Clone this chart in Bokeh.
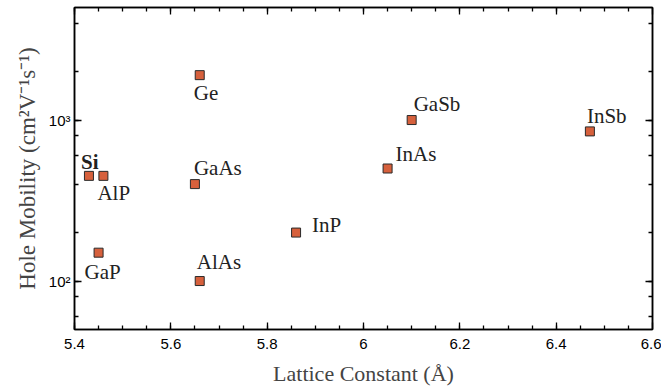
from bokeh.plotting import figure
from bokeh.models import ColumnDataSource, FixedTicker, LogTicker, LinearAxis, LogAxis, Range1d
from bokeh.core.properties import value
from bokeh.embed import file_html
from bokeh.resources import INLINE

materials = ["Si", "AlP", "GaP", "Ge", "GaAs", "AlAs", "InP", "InAs", "GaSb", "InSb"]
lattice = [5.43, 5.46, 5.45, 5.66, 5.65, 5.66, 5.86, 6.05, 6.10, 6.47]
mobility = [450, 450, 150, 1900, 400, 100, 200, 500, 1000, 850]

x_ticks = [5.4, 5.6, 5.8, 6.0, 6.2, 6.4, 6.6]
x_tick_labels = ["5.4", "5.6", "5.8", "6", "6.2", "6.4", "6.6"]
x_minor = [5.4 + 0.05 * i for i in range(25)]
y_ticks = [100, 1000]
y_tick_labels = ["10²", "10³"]

# label placement (screen pixel offsets from each marker)
lab_dx = [-8, -6, -14, -6, -1, -3, 16, 8, 2, -3]
lab_dy = [-14, 17, 19, 18, -16, -19, -8, -15, -16, -15]
lab_weight = ["bold", "normal", "normal", "normal", "normal", "normal", "normal", "normal", "normal", "normal"]

src = ColumnDataSource(dict(x=lattice, y=mobility, name=materials,
                            dx=lab_dx, dy=lab_dy, fw=lab_weight))

p = figure(width=661, height=388, y_axis_type="log",
           x_range=Range1d(5.4, 6.6), y_range=Range1d(50, 5000),
           output_backend="svg", toolbar_location=None,
           min_border_left=74, min_border_right=9, min_border_top=7, min_border_bottom=58)
p.grid.visible = False
p.background_fill_color = "white"
p.border_fill_color = "white"
p.outline_line_color = "black"
p.outline_line_width = 1.5

p.scatter("x", "y", source=src, marker="square", size=9,
          fill_color="#d6603c", line_color="#2a2a2a", line_width=1)
p.text("x", "y", text="name", source=src, x_offset="dx", y_offset="dy",
       text_font=value("Liberation Serif"), text_font_size="21px",
       text_font_style="fw", text_color="#222222",
       text_align="left", text_baseline="alphabetic")

def style(ax):
    ax.axis_line_color = "black"
    ax.axis_line_width = 1.5
    ax.major_tick_in = 7
    ax.major_tick_out = 0
    ax.minor_tick_in = 4
    ax.minor_tick_out = 0
    ax.major_tick_line_color = "black"
    ax.minor_tick_line_color = "black"
    ax.major_tick_line_width = 1.3
    ax.minor_tick_line_width = 1.3
    ax.major_label_text_font = "Liberation Sans"
    ax.major_label_text_font_size = "15px"
    ax.major_label_text_color = "black"

xa = p.xaxis[0]
xa.ticker = FixedTicker(ticks=x_ticks, minor_ticks=x_minor)
xa.major_label_overrides = {t: l for t, l in zip(x_ticks, x_tick_labels)}
style(xa)
xa.major_label_standoff = 9
xa.axis_label = "Lattice Constant (Å)"
xa.axis_label_text_font = "Liberation Serif"
xa.axis_label_text_font_size = "22px"
xa.axis_label_text_font_style = "normal"
xa.axis_label_standoff = 9

ya = p.yaxis[0]
ya.ticker = LogTicker()
ya.major_label_overrides = {t: l for t, l in zip(y_ticks, y_tick_labels)}
style(ya)
ya.major_label_standoff = 4
ya.axis_label = "Hole Mobility (cm²V⁻¹s⁻¹)"
ya.axis_label_text_font = "Liberation Serif"
ya.axis_label_text_font_size = "23px"
ya.axis_label_text_font_style = "normal"
ya.axis_label_standoff = 6

top = LinearAxis(ticker=FixedTicker(ticks=x_ticks, minor_ticks=x_minor))
style(top)
top.major_label_overrides = {t: "" for t in x_ticks}
top.major_label_standoff = 0
p.add_layout(top, "above")

right = LogAxis(ticker=LogTicker())
style(right)
right.major_label_overrides = {t: "" for t in y_ticks}
right.major_label_standoff = 0
p.add_layout(right, "right")

open("out.html", "w").write(file_html(p, INLINE))
